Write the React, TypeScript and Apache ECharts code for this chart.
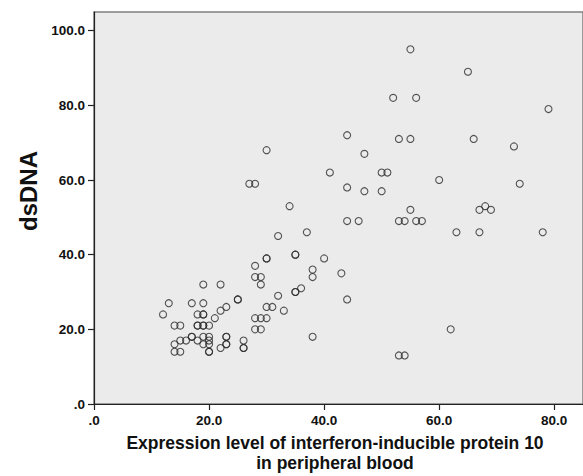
import React, { useEffect, useRef } from "react";
import * as echarts from "echarts";

// IP-10 expression (x) vs dsDNA (y); repeated pairs are overlapping samples
const ip10: number[] = [
  12, 13, 14, 15, 14, 15, 16, 14, 15,
  17, 17, 17, 18, 18, 18, 18,
  19, 19, 19, 19, 19, 19, 19, 19,
  20, 20, 20, 20, 20, 20,
  21, 22, 22, 22, 23, 23, 23, 23, 23,
  25, 25, 26, 26, 26,
  27, 28, 28, 28, 29, 29, 28, 29, 30, 28, 29,
  30, 30, 30, 31, 30, 32, 32, 33, 34,
  35, 35, 35, 35, 36, 37, 38, 38, 38,
  40, 41, 43, 44, 44, 44, 44, 46, 47, 47,
  50, 51, 50, 52, 53, 53, 54, 53, 54, 55, 55, 55, 56, 56, 57,
  60, 62, 63, 65, 66, 67, 68, 69, 67, 73, 74, 78, 79,
];
const dsDNA: number[] = [
  24, 27, 21, 21, 16, 17, 17, 14, 14,
  27, 18, 18, 24, 21, 21, 17,
  32, 27, 24, 24, 21, 21, 18, 16,
  21, 18, 17, 16, 14, 14,
  23, 25, 32, 15, 26, 18, 18, 16, 16,
  28, 28, 17, 15, 15,
  59, 59, 37, 34, 34, 32, 23, 23, 23, 20, 20,
  39, 39, 26, 26, 68, 45, 29, 25, 53,
  40, 40, 30, 30, 31, 46, 36, 34, 18,
  39, 62, 35, 28, 72, 58, 49, 49, 67, 57,
  62, 62, 57, 82, 71, 49, 49, 13, 13, 95, 71, 52, 82, 49, 49,
  60, 20, 46, 89, 71, 52, 53, 52, 46, 69, 59, 46, 79,
];

const xTicks: number[] = [0, 20, 40, 60, 80];
const yTicks: number[] = [0, 20, 40, 60, 80, 100];

const xTitle1 = "Expression level of interferon-inducible protein 10";
const xTitle2 = "in peripheral blood";
const yTitle = "dsDNA";

const FONT = "'Liberation Sans', Arial, Helvetica, sans-serif";

const fmt = (v: number) => (v === 0 ? ".0" : v.toFixed(1));

export default function App() {
  const ref = useRef<HTMLDivElement>(null);

  useEffect(() => {
    if (!ref.current) return;
    const chart = echarts.init(ref.current, undefined, { renderer: "svg" });
    const points = ip10.map((x, i) => [x, dsDNA[i]]);
    chart.setOption({
      animation: false,
      backgroundColor: "#ffffff",
      grid: {
        left: 94,
        top: 12,
        width: 494,
        height: 392,
        show: true,
        backgroundColor: "#EBEBEB",
        borderColor: "#808080",
        borderWidth: 1.5,
      },
      xAxis: {
        type: "value",
        min: xTicks[0],
        max: 85,
        interval: 20,
        splitLine: { show: false },
        axisLine: { show: true, onZero: false, lineStyle: { color: "#222", width: 1.2 } },
        axisTick: { show: true, length: 6, lineStyle: { color: "#222", width: 1.2 } },
        axisLabel: {
          formatter: fmt,
          color: "#111",
          fontFamily: FONT,
          fontWeight: "bold",
          fontSize: 13.5,
          margin: 9,
          showMaxLabel: false,
        },
      },
      yAxis: {
        type: "value",
        min: yTicks[0],
        max: 105,
        interval: 20,
        splitLine: { show: false },
        axisLine: { show: true, onZero: false, lineStyle: { color: "#222", width: 1.2 } },
        axisTick: { show: true, length: 6, lineStyle: { color: "#222", width: 1.2 } },
        axisLabel: {
          formatter: fmt,
          color: "#111",
          fontFamily: FONT,
          fontWeight: "bold",
          fontSize: 13.5,
          margin: 9,
          showMaxLabel: false,
        },
      },
      series: [
        {
          type: "scatter",
          data: points,
          symbol: "circle",
          symbolSize: 7,
          itemStyle: {
            color: "rgba(0,0,0,0)",
            borderColor: "#2a2a2a",
            borderWidth: 1.1,
          },
        },
      ],
      graphic: [
        {
          type: "text",
          x: 335,
          y: 443,
          style: {
            text: xTitle1,
            font: `bold 17.5px ${FONT}`,
            fill: "#111",
            align: "center",
            verticalAlign: "middle",
          },
        },
        {
          type: "text",
          x: 335,
          y: 463,
          style: {
            text: xTitle2,
            font: `bold 17.5px ${FONT}`,
            fill: "#111",
            align: "center",
            verticalAlign: "middle",
          },
        },
        {
          type: "text",
          x: 28,
          y: 191,
          rotation: Math.PI / 2,
          style: {
            text: yTitle,
            font: `bold 24px ${FONT}`,
            fill: "#111",
            align: "center",
            verticalAlign: "middle",
          },
        },
      ],
    });
    return () => chart.dispose();
  }, []);

  return (
    <div
      ref={ref}
      style={{ position: "fixed", left: 0, top: 0, width: 583, height: 476 }}
    />
  );
}
